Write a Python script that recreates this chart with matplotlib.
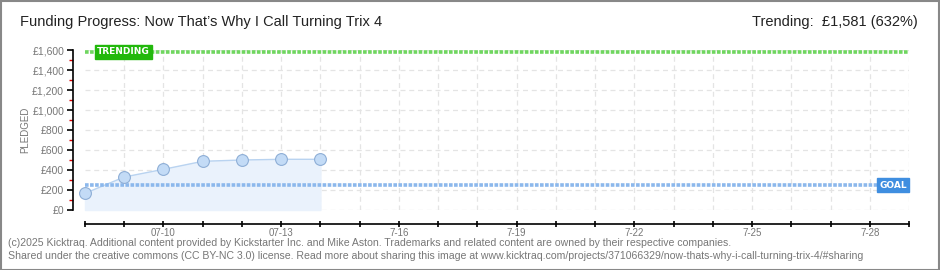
import matplotlib
matplotlib.use("Agg")
import matplotlib.pyplot as plt
import numpy as np
from matplotlib.patches import Rectangle

# data
dates = ["07-08", "07-09", "07-10", "07-11", "07-12", "07-13", "07-14"]
pledged = [167, 330, 407, 487, 500, 507, 507]
goal = 250
trending = 1581
n_days = 21  # axis runs 07-08 .. 07-29
tick_days = [2, 5, 8, 11, 14, 17, 20]
tick_labels = ["07-10", "07-13", "7-16", "7-19", "7-22", "7-25", "7-28"]
y_ticks = [0, 200, 400, 600, 800, 1000, 1200, 1400, 1600]
y_labels = ["£0", "£200", "£400", "£600", "£800", "£1,000", "£1,200", "£1,400", "£1,600"]

W, H = 940, 270
FONT = ["Liberation Sans", "DejaVu Sans"]
fig = plt.figure(figsize=(W / 100, H / 100), dpi=100)
fig.patch.set_facecolor("white")

# frame around the whole image
fig.add_artist(Rectangle((0.5 / W, 0.5 / H), 1 - 1.5 / W, 1 - 1.5 / H, transform=fig.transFigure,
                         fill=False, edgecolor="#888888", linewidth=1.5))

ax = fig.add_axes([85 / W, (H - 210) / H, 824 / W, 160 / H])
x = np.arange(len(pledged))

ax.set_xlim(0, n_days)
ax.set_ylim(0, 1600)

# grid
for d in range(1, n_days + 1):
    ax.axvline(d, color="#e4e4e4", lw=0.9, ls=(0, (4, 3)), zorder=0)
for yv in y_ticks:
    ax.axhline(yv, color="#e4e4e4", lw=0.9, ls=(0, (4, 3)), zorder=0)

# pledged series
ax.fill_between(x, 0, pledged, color="#eaf2fc", zorder=1, clip_on=False)
ax.plot(x, pledged, color="#b9d3f0", lw=1.0, zorder=2, clip_on=False)
ax.plot(x, pledged, "o", ms=8.5, mfc="#c3dbf6", mec="#8eaed6", mew=0.8, zorder=3, clip_on=False)

# trending and goal lines
ax.plot([0, n_days], [trending, trending], color="#6fd65f", lw=2.6, ls=(0, (1.0, 0.4)),
        zorder=2, clip_on=False)
ax.plot([0, n_days], [goal, goal], color="#8cb8ec", lw=2.6, ls=(0, (1.0, 0.4)),
        zorder=2, clip_on=False)

ax.text(0.3, trending, "TRENDING", fontsize=6.5, color="white", fontweight="bold", va="center",
        ha="left", zorder=5,
        bbox=dict(boxstyle="square,pad=0.25", fc="#22b80c", ec="#22b80c"))
ax.text(20.95, goal, "GOAL", fontsize=6.5, color="white", fontweight="bold", va="center",
        ha="right", zorder=5,
        bbox=dict(boxstyle="square,pad=0.25", fc="#3f8ee0", ec="#3f8ee0"))

# axes styling
for s in ["top", "right"]:
    ax.spines[s].set_visible(False)
ax.spines["left"].set_position(("outward", 9))
ax.spines["bottom"].set_position(("outward", 10))
ax.spines["left"].set_bounds(0, 1600)
ax.spines["left"].set_linewidth(1.2)
ax.spines["bottom"].set_linewidth(1.2)

ax.set_yticks(y_ticks)
ax.set_yticklabels(y_labels, family=FONT)
ax.set_yticks(np.arange(100, 1600, 200), minor=True)
ax.tick_params(axis="y", which="major", length=4, width=1.2, color="black",
               labelsize=7.5, labelcolor="#777777", pad=2)
ax.tick_params(axis="y", which="minor", length=3, width=1, color="#dd0000")

xt_labels = [""] * (n_days + 1)
for d, lab in zip(tick_days, tick_labels):
    xt_labels[d] = lab
ax.set_xticks(range(0, n_days + 1))
ax.set_xticklabels(xt_labels, family=FONT)
ax.tick_params(axis="x", which="major", direction="inout", length=5, width=1.2, color="black",
               labelsize=7, labelcolor="#777777", pad=0.5)

fig.text(25 / W, 1 - 130 / H, "PLEDGED", rotation=90, fontsize=7, color="#777777",
         va="center", ha="center", family=FONT)

# header
fig.text(20 / W, 1 - 22 / H, "Funding Progress: Now That\u2019s Why I Call Turning Trix 4",
         fontsize=10.5, color="#222222", va="center", ha="left", family=FONT)
fig.text(918 / W, 1 - 22 / H, "Trending:  £1,581 (632%)",
         fontsize=10.5, color="#222222", va="center", ha="right", family=FONT)

# footer
fig.text(8 / W, 1 - 243 / H,
         "(c)2025 Kicktraq. Additional content provided by Kickstarter Inc. and Mike Aston. Trademarks and related content are owned by their respective companies.",
         fontsize=7.6, color="#777777", va="center", ha="left", family=FONT)
fig.text(8 / W, 1 - 256 / H,
         "Shared under the creative commons (CC BY-NC 3.0) license. Read more about sharing this image at www.kicktraq.com/projects/371066329/now-thats-why-i-call-turning-trix-4/#sharing",
         fontsize=7.6, color="#777777", va="center", ha="left", family=FONT)

fig.savefig("out.png", dpi=100)
